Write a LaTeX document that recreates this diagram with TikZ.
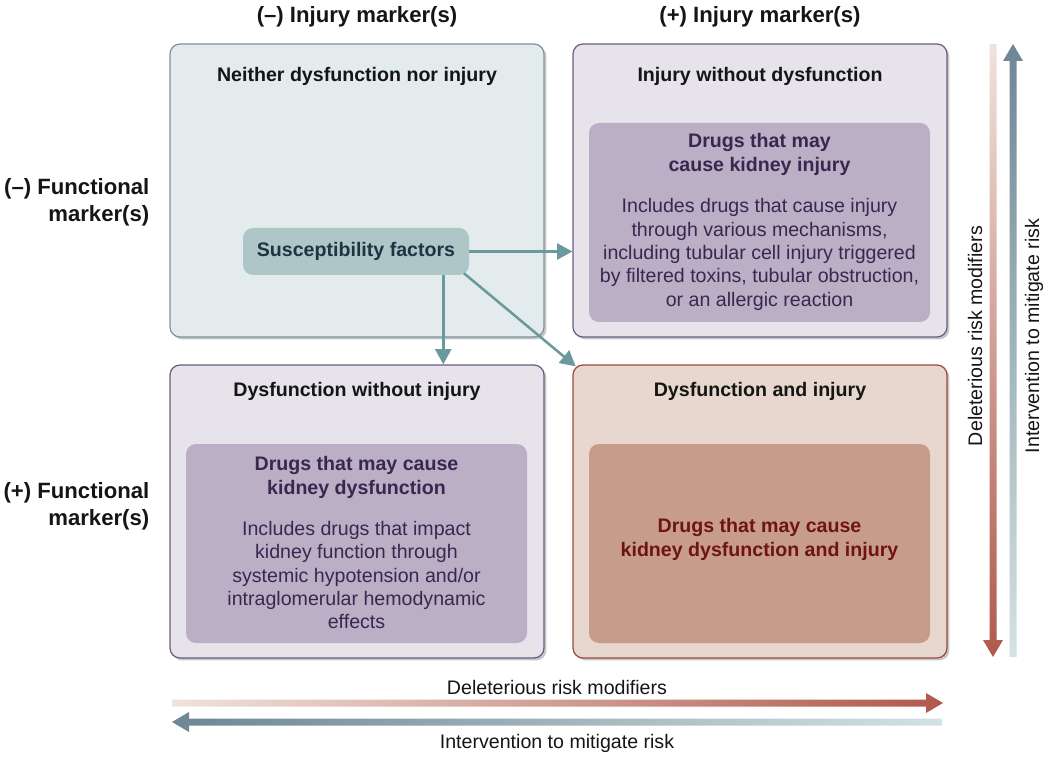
\documentclass[tikz,border=0pt]{standalone}
\usepackage{fontspec}
\setmainfont{Liberation Sans}
\usetikzlibrary{arrows.meta,shadows,calc}
\definecolor{tlfill}{HTML}{E3EBEC}
\definecolor{tldraw}{HTML}{7A959C}
\definecolor{pfill}{HTML}{E7E3EA}
\definecolor{pdraw}{HTML}{6E5A80}
\definecolor{rfill}{HTML}{E7D7CE}
\definecolor{rdraw}{HTML}{9A4A3E}
\definecolor{pinner}{HTML}{BAAFC4}
\definecolor{rinner}{HTML}{C89C8B}
\definecolor{sfill}{HTML}{AFC6C9}
\definecolor{stext}{HTML}{1E3444}
\definecolor{ptext}{HTML}{3B2650}
\definecolor{rtext}{HTML}{6E1414}
\definecolor{teal}{HTML}{6A9A9C}
\definecolor{redlight}{HTML}{F0E2DC}
\definecolor{reddark}{HTML}{B0594C}
\definecolor{bluelight}{HTML}{D3E2E2}
\definecolor{bluedark}{HTML}{6E8695}
\definecolor{ttext}{HTML}{151515}
\tikzset{
  quad/.style={rounded corners=7.5pt, line width=0.9pt, minimum width=280.5pt, minimum height=219.75pt,
    drop shadow={shadow xshift=1.8pt, shadow yshift=-1.8pt, fill=black, opacity=0.22}},
  inner/.style={rounded corners=7.5pt, minimum width=255.75pt, minimum height=149.25pt},
  qtitle/.style={font=\fontsize{14.7}{17.5}\selectfont\bfseries, text=ttext},
  head/.style={font=\fontsize{16.6}{20.3}\selectfont\bfseries, text=ttext, align=right},
  ititle/.style={font=\fontsize{14.7}{17.5}\selectfont\bfseries, align=center},
  ibody/.style={font=\fontsize{14.7}{17.5}\selectfont, align=center},
  conn/.style={draw=teal, line width=1.9pt, -{Triangle[length=11.5pt,width=12pt]}},
  axlabel/.style={font=\fontsize{14.7}{17.5}\selectfont, text=ttext},
}
\begin{document}
\begin{tikzpicture}[x=0.75pt,y=-0.75pt]
\useasboundingbox (0,0) rectangle (1050,759);

% headers
\node[head] (hneg) at (357,17) {(–) Injury marker(s)};
\node[head] (hpos) at (760,17) {(+) Injury marker(s)};
\node[head, anchor=east] (fneg) at (154,202) {(–) Functional\\marker(s)};
\node[head, anchor=east] (fpos) at (154,506) {(+) Functional\\marker(s)};

% quadrants
\node[quad, fill=tlfill, draw=tldraw] (tl) at (357,190.5) {};
\node[quad, fill=pfill, draw=pdraw] (tr) at (760,190.5) {};
\node[quad, fill=pfill, draw=pdraw] (bl) at (357,511.5) {};
\node[quad, fill=rfill, draw=rdraw] (br) at (760,511.5) {};

\node[qtitle] (tlt) at (357,76) {Neither dysfunction nor injury};
\node[qtitle] (trt) at (760,76) {Injury without dysfunction};
\node[qtitle] (blt) at (357,391) {Dysfunction without injury};
\node[qtitle] (brt) at (760,391) {Dysfunction and injury};

% inner boxes
\node[inner, fill=pinner] (tri) at (759.5,222.5) {};
\node[inner, fill=pinner] (bli) at (356.5,543.5) {};
\node[inner, fill=rinner] (bri) at (759.5,543.5) {};

\node[ititle, text=ptext] (trh) at (759.5,154.5) {Drugs that may\\cause kidney injury};
\node[ibody, text=ptext] (trb) at (759.5,254.5) {Includes drugs that cause injury\\through various mechanisms,\\including tubular cell injury triggered\\by filtered toxins, tubular obstruction,\\or an allergic reaction};
\node[ititle, text=ptext] (blh) at (356.5,477.5) {Drugs that may cause\\kidney dysfunction};
\node[ibody, text=ptext] (blb) at (356.5,575) {Includes drugs that impact\\kidney function through\\systemic hypotension and/or\\intraglomerular hemodynamic\\effects};
\node[ititle, text=rtext] (brh) at (759.5,539.5) {Drugs that may cause\\kidney dysfunction and injury};

% susceptibility
\node[rounded corners=7.5pt, fill=sfill, minimum width=169.5pt, minimum height=35.25pt,
      font=\fontsize{14.7}{17.5}\selectfont\bfseries, text=stext] (sf) at (356,251.5) {Susceptibility factors};

\draw[conn] (sf.east) -- (sf.east -| tr.west);
\draw[conn] ([xshift=-19.5pt]sf.south east) -- ([xshift=-19.5pt]sf.south east |- bl.north);
\draw[conn] ([xshift=-4pt,yshift=1.5pt]sf.south east) -- ([xshift=2.5pt,yshift=-1.5pt]br.north west);

% horizontal gradient arrows
\shade[left color=redlight, right color=reddark]
  (172,699.5) -- (926,699.5) -- (926,693) -- (943,703) -- (926,713) -- (926,706.5) -- (172,706.5) -- cycle;
\shade[left color=bluedark, right color=bluelight]
  (942,718.5) -- (189,718.5) -- (189,712) -- (172,722) -- (189,732) -- (189,725.5) -- (942,725.5) -- cycle;
\node[axlabel] (hdel) at (557,687) {Deleterious risk modifiers};
\node[axlabel] (hint) at (557,743) {Intervention to mitigate risk};

% vertical gradient arrows
\shade[top color=redlight, bottom color=reddark]
  (989.5,44) -- (989.5,640) -- (983,640) -- (993,657) -- (1003,640) -- (996.5,640) -- (996.5,44) -- cycle;
\shade[top color=bluedark, bottom color=bluelight]
  (1009.5,657) -- (1009.5,61) -- (1003,61) -- (1013,44) -- (1023,61) -- (1016.5,61) -- (1016.5,657) -- cycle;
\node[axlabel, rotate=90] (vdel) at (975,336) {Deleterious risk modifiers};
\node[axlabel, rotate=90] (vint) at (1034,336) {Intervention to mitigate risk};
\end{tikzpicture}
\end{document}
